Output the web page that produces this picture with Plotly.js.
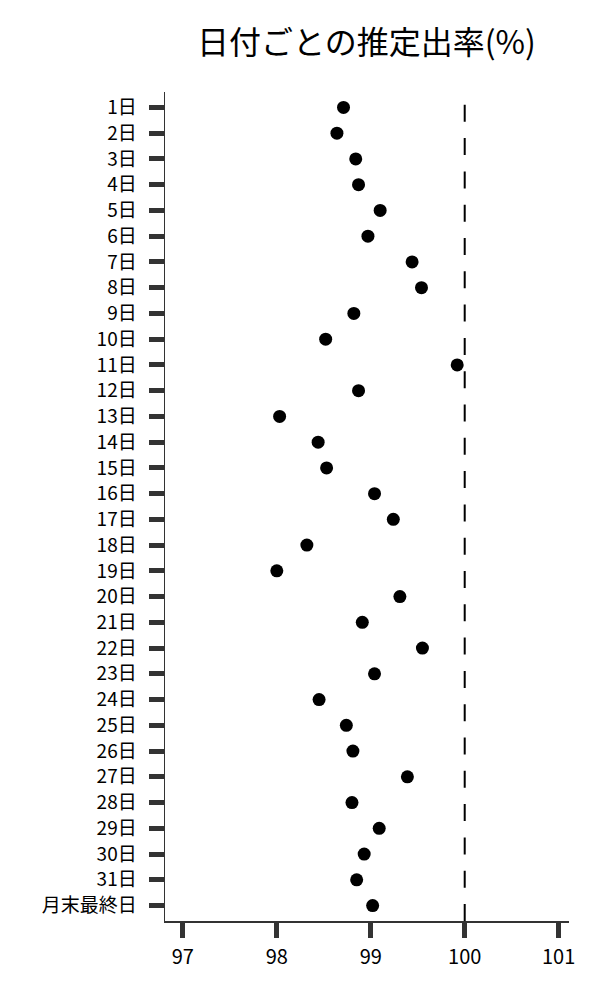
<!DOCTYPE html>
<html>
<head>
<meta charset="utf-8">
<script src="https://cdn.plot.ly/plotly-3.0.1.min.js"></script>
<style>html,body{margin:0;padding:0;background:#fff;}</style>
</head>
<body>
<div id="chart" style="width:600px;height:1000px;"></div>
<script>
const days = ["1日","2日","3日","4日","5日","6日","7日","8日","9日","10日","11日","12日","13日","14日","15日","16日","17日","18日","19日","20日","21日","22日","23日","24日","25日","26日","27日","28日","29日","30日","31日","月末最終日"];
const rates = [98.71,98.64,98.84,98.87,99.10,98.97,99.44,99.54,98.82,98.52,99.92,98.87,98.03,98.44,98.53,99.04,99.24,98.32,98.00,99.31,98.91,99.55,99.04,98.45,98.74,98.81,99.39,98.80,99.09,98.93,98.85,99.02];
const xTicks = [97,98,99,100,101];
const refValue = 100;
const titleText = "日付ごとの推定出率(%)";

const FONT = "Noto Sans CJK JP, Noto Sans, sans-serif";

const trace = {
  type: "scatter",
  mode: "markers",
  x: rates,
  y: days,
  marker: {color: "#000000", size: 13},
  hoverinfo: "x+y"
};

const layout = {
  width: 600,
  height: 1000,
  margin: {l: 165, r: 31, t: 92, b: 79, pad: 0},
  paper_bgcolor: "#ffffff",
  plot_bgcolor: "#ffffff",
  showlegend: false,
  font: {family: FONT, color: "#000000"},
  title: {
    text: titleText,
    font: {family: FONT, size: 32, color: "#000000"},
    x: 0.6108, xanchor: "center",
    y: 0.957, yanchor: "middle"
  },
  xaxis: {
    range: [96.81, 101.11],
    tickvals: xTicks,
    ticktext: xTicks.map(String),
    showgrid: false,
    zeroline: false,
    showline: true,
    linecolor: "#333333",
    linewidth: 1.5,
    ticks: "outside",
    ticklen: 15,
    tickwidth: 5,
    tickcolor: "#333333",
    tickfont: {family: FONT, size: 20, color: "#000000"},
    ticklabelstandoff: 2,
    fixedrange: true
  },
  yaxis: {
    type: "category",
    categoryorder: "array",
    categoryarray: days,
    range: [31.6, -0.6],
    showgrid: false,
    zeroline: false,
    showline: true,
    linecolor: "#333333",
    linewidth: 1.5,
    ticks: "outside",
    ticklen: 15,
    tickwidth: 5,
    tickcolor: "#333333",
    tickfont: {family: FONT, size: 19, color: "#000000"},
    ticklabelstandoff: 8,
    fixedrange: true
  },
  shapes: [{
    type: "line",
    xref: "x", yref: "paper",
    x0: refValue, x1: refValue,
    y0: 0, y1: 1,
    line: {color: "#000000", width: 2, dash: "17px,16.3px"},
    layer: "below"
  }]
};

Plotly.newPlot("chart", [trace], layout, {displayModeBar: false, staticPlot: true});
</script>
</body>
</html>
